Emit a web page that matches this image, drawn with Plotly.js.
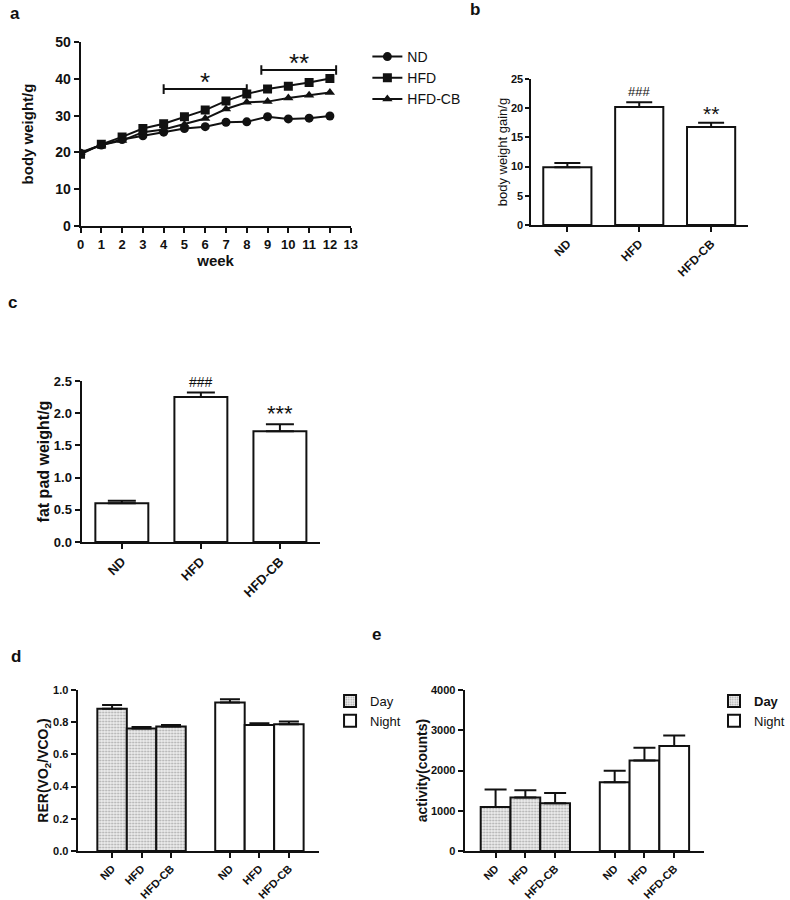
<!DOCTYPE html>
<html>
<head>
<meta charset="utf-8">
<script src="https://cdn.plot.ly/plotly-3.0.1.min.js"></script>
<style>html,body{margin:0;padding:0;background:#fff;}#chart{width:790px;height:900px;}</style>
</head>
<body>
<div id="chart"></div>
<script>
// ---- data ----
const weeks = [0,1,2,3,4,5,6,7,8,9,10,11,12];
const ndWeight  = [19.8,22.0,23.5,24.5,25.5,26.5,27.0,28.2,28.3,29.7,29.1,29.3,29.9];
const hfdWeight = [19.5,22.2,24.2,26.5,27.8,29.7,31.5,34.0,35.9,37.2,38.0,39.0,40.1];
const cbWeight  = [20.0,22.0,23.2,25.5,26.2,27.6,29.2,31.8,33.6,33.8,34.8,35.5,36.3];
const weekTicks = [0,1,2,3,4,5,6,7,8,9,10,11,12,13];

const groups = ['ND','HFD','HFD-CB'];
const gainMean = [9.9, 20.2, 16.8];
const gainErr  = [0.7, 0.8, 0.7];
const gainMarks = ['', '###', '**'];

const fatMean = [0.60, 2.25, 1.72];
const fatErr  = [0.04, 0.07, 0.11];
const fatMarks = ['', '###', '***'];

const rerDay      = [0.884, 0.761, 0.774];
const rerDayErr   = [0.023, 0.009, 0.008];
const rerNight    = [0.923, 0.782, 0.788];
const rerNightErr = [0.019, 0.011, 0.017];

const actDay      = [1095, 1328, 1187];
const actDayErr   = [432, 182, 257];
const actNight    = [1710, 2249, 2606];
const actNightErr = [282, 315, 265];

// significance brackets in panel a: [fromWeek, toWeek, level, label]
const sigA = [[4, 8, 37.2, '*'], [8.7, 12.3, 42.4, '**']];

// ---- helpers ----
const W = 790, H = 900;
const dx = p => p / W;
const dy = p => 1 - p / H;
const FONT = 'Liberation Sans, Arial, sans-serif';
const zeros = a => a.map(() => 0);
const dayPos = groups.map((g, i) => i);
const nightPos = groups.map((g, i) => i + groups.length + 1);

function axisBase(extra) {
  return Object.assign({
    showline: true, linecolor: '#111', linewidth: 2,
    ticks: 'outside', ticklen: 5, tickwidth: 2, tickcolor: '#111',
    showgrid: false, zeroline: false, fixedrange: true,
    tickfont: {family: FONT, size: 13, color: '#111', weight: 700}
  }, extra);
}

const traces = [];
// panel a
const symA = ['circle', 'square', 'triangle-up'];
const seriesA = [ndWeight, hfdWeight, cbWeight];
seriesA.forEach((s, i) => {
  traces.push({
    type: 'scatter', mode: 'lines+markers', x: weeks, y: s, name: groups[i],
    xaxis: 'x', yaxis: 'y', legend: 'legend',
    line: {color: '#111', width: 2},
    marker: {symbol: symA[i], size: 9, color: '#111'}
  });
});
// panel b
traces.push({
  type: 'bar', x: [0,1,2], y: gainMean, xaxis: 'x2', yaxis: 'y2', width: 0.67, showlegend: false,
  marker: {color: '#fff', line: {color: '#111', width: 2}},
  error_y: {type: 'data', symmetric: false, array: gainErr, arrayminus: zeros(gainErr), color: '#111', thickness: 2, width: 13}
});
// panel c
traces.push({
  type: 'bar', x: [0,1,2], y: fatMean, xaxis: 'x3', yaxis: 'y3', width: 0.67, showlegend: false,
  marker: {color: '#fff', line: {color: '#111', width: 2}},
  error_y: {type: 'data', symmetric: false, array: fatErr, arrayminus: zeros(fatErr), color: '#111', thickness: 2, width: 14}
});
// panels d, e
const dayMarker = {color: '#e0e0e0', line: {color: '#111', width: 2},
  pattern: {shape: '.', fgcolor: '#a8a8a8', bgcolor: '#eeeeee', size: 3, solidity: 0.3}};
const nightMarker = {color: '#fff', line: {color: '#111', width: 2}};
[['x4','y4','legend2', rerDay, rerDayErr, rerNight, rerNightErr, 10, 'Day'],
 ['x5','y5','legend3', actDay, actDayErr, actNight, actNightErr, 11, '<b>Day</b>']].forEach(p => {
  traces.push({
    type: 'bar', name: p[8], x: dayPos, y: p[3], xaxis: p[0], yaxis: p[1], legend: p[2], width: 1,
    marker: dayMarker,
    error_y: {type: 'data', symmetric: false, array: p[4], arrayminus: zeros(p[4]), color: '#111', thickness: 2, width: p[7]}
  });
  traces.push({
    type: 'bar', name: 'Night', x: nightPos, y: p[5], xaxis: p[0], yaxis: p[1], legend: p[2], width: 1,
    marker: nightMarker,
    error_y: {type: 'data', symmetric: false, array: p[6], arrayminus: zeros(p[6]), color: '#111', thickness: 2, width: p[7]}
  });
});

const shapes = [];
const annotations = [];
sigA.forEach(s => {
  const ln = {type: 'line', xref: 'x', yref: 'y', line: {color: '#111', width: 2}};
  shapes.push(Object.assign({}, ln, {x0: s[0], x1: s[1], y0: s[2], y1: s[2]}));
  shapes.push(Object.assign({}, ln, {x0: s[0], x1: s[0], y0: s[2] - 1.3, y1: s[2] + 1.3}));
  shapes.push(Object.assign({}, ln, {x0: s[1], x1: s[1], y0: s[2] - 1.3, y1: s[2] + 1.3}));
  annotations.push({xref: 'x', yref: 'y', x: (s[0] + s[1]) / 2, y: s[2], yanchor: 'bottom', yshift: -10,
    text: s[3], showarrow: false, font: {family: FONT, size: 26, color: '#111'}});
});
gainMarks.forEach((m, i) => {
  if (!m) return;
  annotations.push({xref: 'x2', yref: 'y2', x: i, y: gainMean[i] + gainErr[i], yanchor: 'bottom', yshift: m[0] === '#' ? 1 : -4,
    text: m, showarrow: false, font: {family: FONT, size: m[0] === '#' ? 13 : 21, color: '#111'}});
});
fatMarks.forEach((m, i) => {
  if (!m) return;
  annotations.push({xref: 'x3', yref: 'y3', x: i, y: fatMean[i] + fatErr[i], yanchor: 'bottom', yshift: m[0] === '#' ? 1 : -4,
    text: m, showarrow: false, font: {family: FONT, size: m[0] === '#' ? 14 : 22, color: '#111'}});
});
[['a', 8, 14], ['b', 476, 10], ['c', 6, 302], ['d', 9, 656], ['e', 377, 634]].forEach(l => {
  annotations.push({xref: 'paper', yref: 'paper', x: dx(l[1]), y: dy(l[2]), xanchor: 'left', yanchor: 'middle',
    text: l[0], showarrow: false, font: {family: FONT, size: 17, color: '#111', weight: 700}});
});

const titleFont = (sz, wt) => ({family: FONT, size: sz, color: '#111', weight: wt});
const catAxis = (dom, rng, vals, sz) => axisBase({
  domain: dom, range: rng, tickvals: vals, ticktext: vals.map(v => groups[v % (groups.length + 1)]),
  tickangle: -45, tickfont: {family: FONT, size: sz, color: '#111', weight: 700}
});

const layout = {
  width: W, height: H, margin: {l: 0, r: 0, t: 0, b: 0},
  paper_bgcolor: '#fff', plot_bgcolor: 'rgba(0,0,0,0)',
  barmode: 'overlay', showlegend: true,
  font: {family: FONT, color: '#111'},
  xaxis: axisBase({domain: [dx(82), dx(357)], range: [0, 13], tickvals: weekTicks, anchor: 'y',
    title: {text: 'week', font: titleFont(15, 700), standoff: 4}}),
  yaxis: axisBase({domain: [dy(226), dy(42)], range: [0, 50], dtick: 10, anchor: 'x',
    tickfont: {family: FONT, size: 14, color: '#111', weight: 700},
    title: {text: 'body weight/g', font: titleFont(15, 700), standoff: 18}}),
  xaxis2: Object.assign(catAxis([dx(541), dx(762)], [-0.5, 2.52], [0,1,2], 12), {anchor: 'y2'}),
  yaxis2: axisBase({domain: [dy(225), dy(79)], range: [0, 25], dtick: 5, anchor: 'x2', ticklen: 4,
    tickfont: {family: FONT, size: 11, color: '#111', weight: 700},
    title: {text: 'body weight gain/g', font: titleFont(13, 400), standoff: 0}}),
  xaxis3: Object.assign(catAxis([dx(83), dx(326)], [-0.51, 2.51], [0,1,2], 13), {anchor: 'y3'}),
  yaxis3: axisBase({domain: [dy(542), dy(381)], range: [0, 2.5], dtick: 0.5, tickformat: '.1f', anchor: 'x3',
    title: {text: 'fat pad weight/g', font: titleFont(16, 700), standoff: 0}}),
  xaxis4: Object.assign(catAxis([dx(79), dx(325)], [-1.17, 7.03], dayPos.concat(nightPos), 11), {anchor: 'y4'}),
  yaxis4: axisBase({domain: [dy(851), dy(690)], range: [0, 1.0], dtick: 0.2, tickformat: '.1f', anchor: 'x4',
    tickfont: {family: FONT, size: 11, color: '#111', weight: 700},
    title: {text: 'RER(VO<sub>2</sub>/VCO<sub>2</sub>)', font: titleFont(14, 700), standoff: 0}}),
  xaxis5: Object.assign(catAxis([dx(473), dx(717)], [-1.04, 7.01], dayPos.concat(nightPos), 11), {anchor: 'y5'}),
  yaxis5: axisBase({domain: [dy(851), dy(690)], range: [0, 4000], dtick: 1000, anchor: 'x5',
    tickfont: {family: FONT, size: 11, color: '#111', weight: 700},
    title: {text: 'activity(counts)', font: titleFont(14, 700), standoff: 0}}),
  legend: {x: dx(374), y: dy(41), xanchor: 'left', yanchor: 'top', bgcolor: 'rgba(0,0,0,0)',
    font: {family: FONT, size: 14, color: '#111'}, tracegroupgap: 0, itemwidth: 30},
  legend2: {x: dx(336), y: dy(686), xanchor: 'left', yanchor: 'top', bgcolor: 'rgba(0,0,0,0)',
    font: {family: FONT, size: 13, color: '#111'}, tracegroupgap: 0},
  legend3: {x: dx(727), y: dy(686), xanchor: 'left', yanchor: 'top', bgcolor: 'rgba(0,0,0,0)',
    font: {family: FONT, size: 13, color: '#111'}, tracegroupgap: 0},
  shapes: shapes, annotations: annotations
};

Plotly.newPlot('chart', traces, layout, {displayModeBar: false, staticPlot: true});
</script>
</body>
</html>
